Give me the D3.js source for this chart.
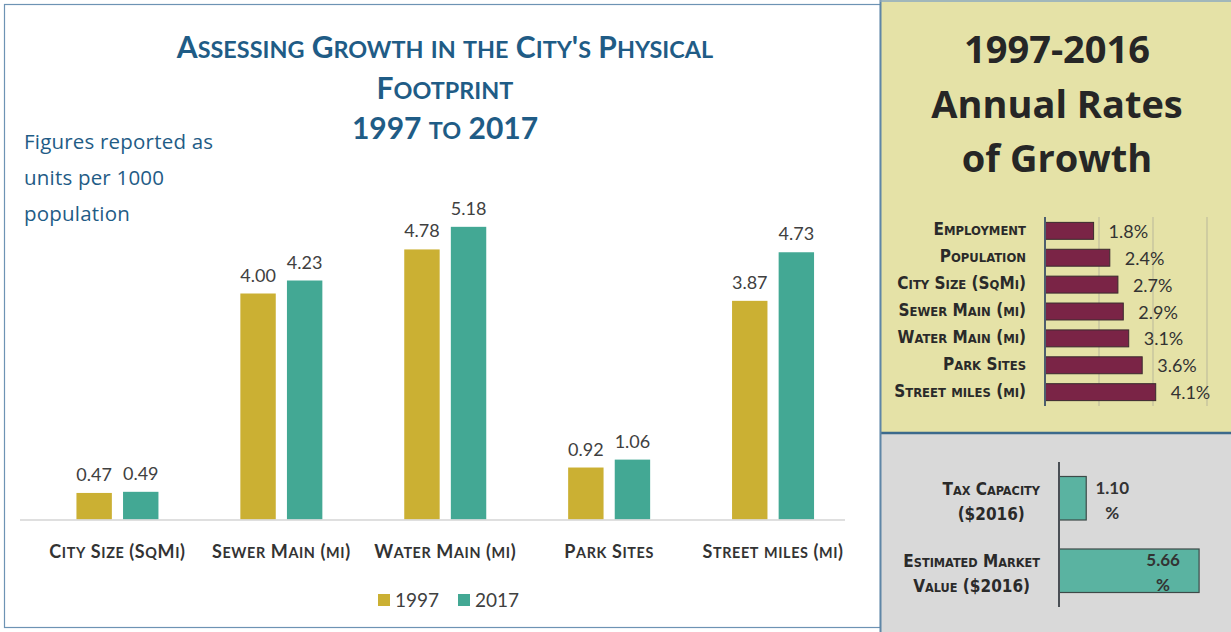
<!DOCTYPE html>
<html>
<head>
<meta charset="utf-8">
<script src="https://cdn.jsdelivr.net/npm/d3@7"></script>
<style>
  html, body { margin: 0; padding: 0; background: #ffffff; }
  svg { display: block; }
</style>
</head>
<body>
<svg id="chart" width="1231" height="632"></svg>
<script>
// Per-1000-population infrastructure, 1997 vs 2017
const categories = ["City Size (SqMi)", "Sewer Main (mi)", "Water Main (mi)", "Park Sites", "Street miles (mi)"];
const values1997 = [0.47, 4.00, 4.78, 0.92, 3.87];
const values2017 = [0.49, 4.23, 5.18, 1.06, 4.73];
const seriesNames = ["1997", "2017"];

// Annual growth rates 1997-2016 (%)
const rateCategories = ["Employment", "Population", "City Size (SqMi)", "Sewer Main (mi)", "Water Main (mi)", "Park Sites", "Street miles (mi)"];
const rateValues = [1.8, 2.4, 2.7, 2.9, 3.1, 3.6, 4.1];
const rateTicks = [2, 4, 6];

// Tax base growth (%)
const taxCategories = [["Tax Capacity", "($2016)"], ["Estimated Market", "Value ($2016)"]];
const taxValues = [1.10, 5.66];

const svg = d3.select("#chart");
const BLUE = "#1f5c86";
const GOLD = "#cbb033";
const TEAL = "#43a894";
const MAROON = "#7a2446";
const TEAL2 = "#5ab3a1";
const BODY = "Lato, 'Open Sans', sans-serif";
const NARROW = "'Liberation Sans Narrow', 'DejaVu Sans Condensed', sans-serif";

// Small-caps: capitals at full size, lower-case letters upper-cased at a reduced size
function smallCaps(textSel, size, ratio) {
  textSel.each(function () {
    const node = d3.select(this);
    const str = node.text();
    node.text(null);
    const runs = [];
    for (const ch of str) {
      const low = ch !== ch.toUpperCase();
      if (runs.length && runs[runs.length - 1].low === low) runs[runs.length - 1].s += ch;
      else runs.push({ low, s: ch });
    }
    runs.forEach(r => node.append("tspan")
      .attr("font-size", r.low ? size * ratio : size)
      .text(r.low ? r.s.toUpperCase() : r.s));
  });
}

// ---------- panels ----------
svg.append("rect").attr("x", 4.5).attr("y", 4.5).attr("width", 876).attr("height", 623)
  .attr("fill", "#ffffff").attr("stroke", "#6d93b4").attr("stroke-width", 1.2);
svg.append("rect").attr("x", 880).attr("y", 0).attr("width", 351).attr("height", 433)
  .attr("fill", "#e5e2a7");
svg.append("rect").attr("x", 880).attr("y", 433).attr("width", 351).attr("height", 199)
  .attr("fill", "#d9d9d9");
svg.append("line").attr("x1", 880).attr("x2", 1231).attr("y1", 433).attr("y2", 433)
  .attr("stroke", "#3c6a8c").attr("stroke-width", 2.5);
svg.append("line").attr("x1", 880.5).attr("x2", 880.5).attr("y1", 0).attr("y2", 632)
  .attr("stroke", "#5f86a6").attr("stroke-width", 2);
svg.append("line").attr("x1", 880).attr("x2", 1231).attr("y1", 1).attr("y2", 1)
  .attr("stroke", "#8aa8c0").attr("stroke-width", 1.5);

// ---------- left chart: grouped columns ----------
["Assessing Growth in the City's Physical", "Footprint", "1997 to 2017"].forEach((t, i) => {
  svg.append("text").attr("x", 445).attr("y", 58 + i * 40.5)
    .attr("font-family", BODY).attr("font-weight", 700).attr("fill", BLUE)
    .attr("text-anchor", "middle").text(t)
    .call(smallCaps, 30, 0.78);
});

const note = svg.append("text").attr("font-family", "'Open Sans', sans-serif").attr("fill", BLUE)
  .attr("font-size", 20.5).attr("letter-spacing", 0.2);
["Figures reported as", "units per 1000", "population"].forEach((t, i) => {
  note.append("tspan").attr("x", 24).attr("y", 149 + i * 36).text(t);
});

const x0 = d3.scaleBand().domain(categories).range([35.5, 855]).paddingInner(0).paddingOuter(0);
const x1 = d3.scaleBand().domain(seriesNames).range([x0.bandwidth() / 2 - 41, x0.bandwidth() / 2 + 41]).paddingInner(0.24);
const y = d3.scaleLinear().domain([0, 6]).range([519.5, 180.5]);
const color = d3.scaleOrdinal().domain(seriesNames).range([GOLD, TEAL]);

const rows = categories.map((c, i) => ({ cat: c, vals: [
  { key: "1997", v: values1997[i] }, { key: "2017", v: values2017[i] }] }));

const groups = svg.append("g").selectAll("g").data(rows).join("g")
  .attr("transform", d => `translate(${x0(d.cat)},0)`);
groups.selectAll("rect").data(d => d.vals).join("rect")
  .attr("x", d => x1(d.key)).attr("width", x1.bandwidth())
  .attr("y", d => y(d.v)).attr("height", d => y(0) - y(d.v))
  .attr("fill", d => color(d.key));
groups.selectAll("text").data(d => d.vals).join("text")
  .attr("x", d => x1(d.key) + x1.bandwidth() / 2)
  .attr("y", d => y(d.v) - 12)
  .attr("text-anchor", "middle").attr("font-family", BODY).attr("font-size", 18)
  .attr("fill", "#404040").text(d => d.v.toFixed(2));

// baseline
svg.append("line").attr("x1", 20).attr("x2", 845).attr("y1", y(0) + 0.5).attr("y2", y(0) + 0.5)
  .attr("stroke", "#d4d4d4").attr("stroke-width", 1.5);

// category axis
const xAxis = svg.append("g").attr("transform", `translate(0,${y(0)})`)
  .call(d3.axisBottom(x0).tickSize(0).tickPadding(0));
xAxis.select(".domain").remove();
xAxis.selectAll("text").attr("y", 38).attr("dy", null)
  .attr("font-family", BODY).attr("font-weight", 700).attr("letter-spacing", 0.6)
  .attr("fill", "#333333")
  .call(smallCaps, 18, 0.8);

// legend
const legend = svg.append("g").attr("font-family", BODY).attr("font-size", 19).attr("fill", "#404040");
seriesNames.forEach((s, i) => {
  const lx = 378 + i * 80;
  legend.append("rect").attr("x", lx).attr("y", 594).attr("width", 12).attr("height", 12).attr("fill", color(s));
  legend.append("text").attr("x", lx + 17).attr("y", 607).attr("fill", "#404040").text(s);
});

// ---------- right top: annual growth rates ----------
const rTitle = svg.append("text").attr("font-family", "'Open Sans', sans-serif").attr("font-weight", 700)
  .attr("fill", "#262626").attr("text-anchor", "middle").attr("font-size", 38);
["1997-2016", "Annual Rates", "of Growth"].forEach((t, i) => {
  rTitle.append("tspan").attr("x", 1057).attr("y", 63 + i * 54.5).text(t);
});

const rx = d3.scaleLinear().domain([0, 6]).range([1045, 1207]);
const ry = d3.scaleBand().domain(rateCategories).range([217, 406]).paddingInner(0.37).paddingOuter(0.2);

svg.append("g").selectAll("line").data(rateTicks).join("line")
  .attr("x1", d => rx(d)).attr("x2", d => rx(d)).attr("y1", 217).attr("y2", 406)
  .attr("stroke", "#b9b79a").attr("stroke-width", 1);

svg.append("g").selectAll("rect").data(rateValues).join("rect")
  .attr("x", rx(0)).attr("y", (d, i) => ry(rateCategories[i]))
  .attr("width", d => rx(d) - rx(0)).attr("height", ry.bandwidth())
  .attr("fill", MAROON).attr("stroke", "#3a2a2e").attr("stroke-width", 1);

svg.append("g").selectAll("text").data(rateValues).join("text")
  .attr("x", d => rx(d) + 15).attr("y", (d, i) => ry(rateCategories[i]) + ry.bandwidth() / 2 + 7)
  .attr("font-family", BODY).attr("font-size", 18).attr("fill", "#333333")
  .text(d => d.toFixed(1) + "%");

const rAxis = svg.append("g").attr("transform", `translate(${rx(0)},0)`)
  .call(d3.axisLeft(ry).tickSize(0).tickPadding(19));
rAxis.select(".domain").remove();
rAxis.selectAll("text").attr("dy", "0.45em")
  .attr("font-family", NARROW).attr("font-weight", 700)
  .attr("fill", "#2a2a2a")
  .call(smallCaps, 17, 0.76);
svg.append("line").attr("x1", rx(0)).attr("x2", rx(0)).attr("y1", 217).attr("y2", 406)
  .attr("stroke", "#4d5e6e").attr("stroke-width", 2);

// ---------- right bottom: tax base growth ----------
const tx = d3.scaleLinear().domain([0, 6]).range([1059, 1207.5]);
const ty = d3.scaleBand().domain([0, 1]).range([462, 607]).paddingInner(0.4).paddingOuter(0.2);

svg.append("g").selectAll("rect").data(taxValues).join("rect")
  .attr("x", tx(0)).attr("y", (d, i) => ty(i))
  .attr("width", d => tx(d) - tx(0)).attr("height", ty.bandwidth())
  .attr("fill", TEAL2).attr("stroke", "#3d4a48").attr("stroke-width", 1.2);
svg.append("line").attr("x1", tx(0)).attr("x2", tx(0)).attr("y1", 462).attr("y2", 607)
  .attr("stroke", "#4a4f55").attr("stroke-width", 2);

// value labels: small value sits outside the bar, large one inside near its end
taxValues.forEach((v, i) => {
  const inside = (tx(v) - tx(0)) > 60;
  const cx = inside ? tx(v) - 36 : tx(v) + 26;
  const t = svg.append("text").attr("font-family", BODY).attr("font-weight", 700)
    .attr("font-size", 17).attr("fill", "#333333").attr("text-anchor", "middle");
  t.append("tspan").attr("x", cx).attr("y", ty(i) + 17).text(v.toFixed(2));
  t.append("tspan").attr("x", cx).attr("y", ty(i) + 42).text("%");
});

// category labels: each line centred, block right-aligned to the axis
taxCategories.forEach((lines, i) => {
  const g = svg.append("g");
  const texts = lines.map((ln, j) => g.append("text")
    .attr("font-family", NARROW).attr("font-weight", 700)
    .attr("fill", "#2a2a2a").attr("text-anchor", "middle")
    .attr("y", ty(i) + 18 + j * 25).text(ln)
    .call(smallCaps, 17, 0.74));
  const w = d3.max(texts, t => t.node().getComputedTextLength());
  texts.forEach(t => t.attr("x", 1040 - w / 2));
});
</script>
</body>
</html>
